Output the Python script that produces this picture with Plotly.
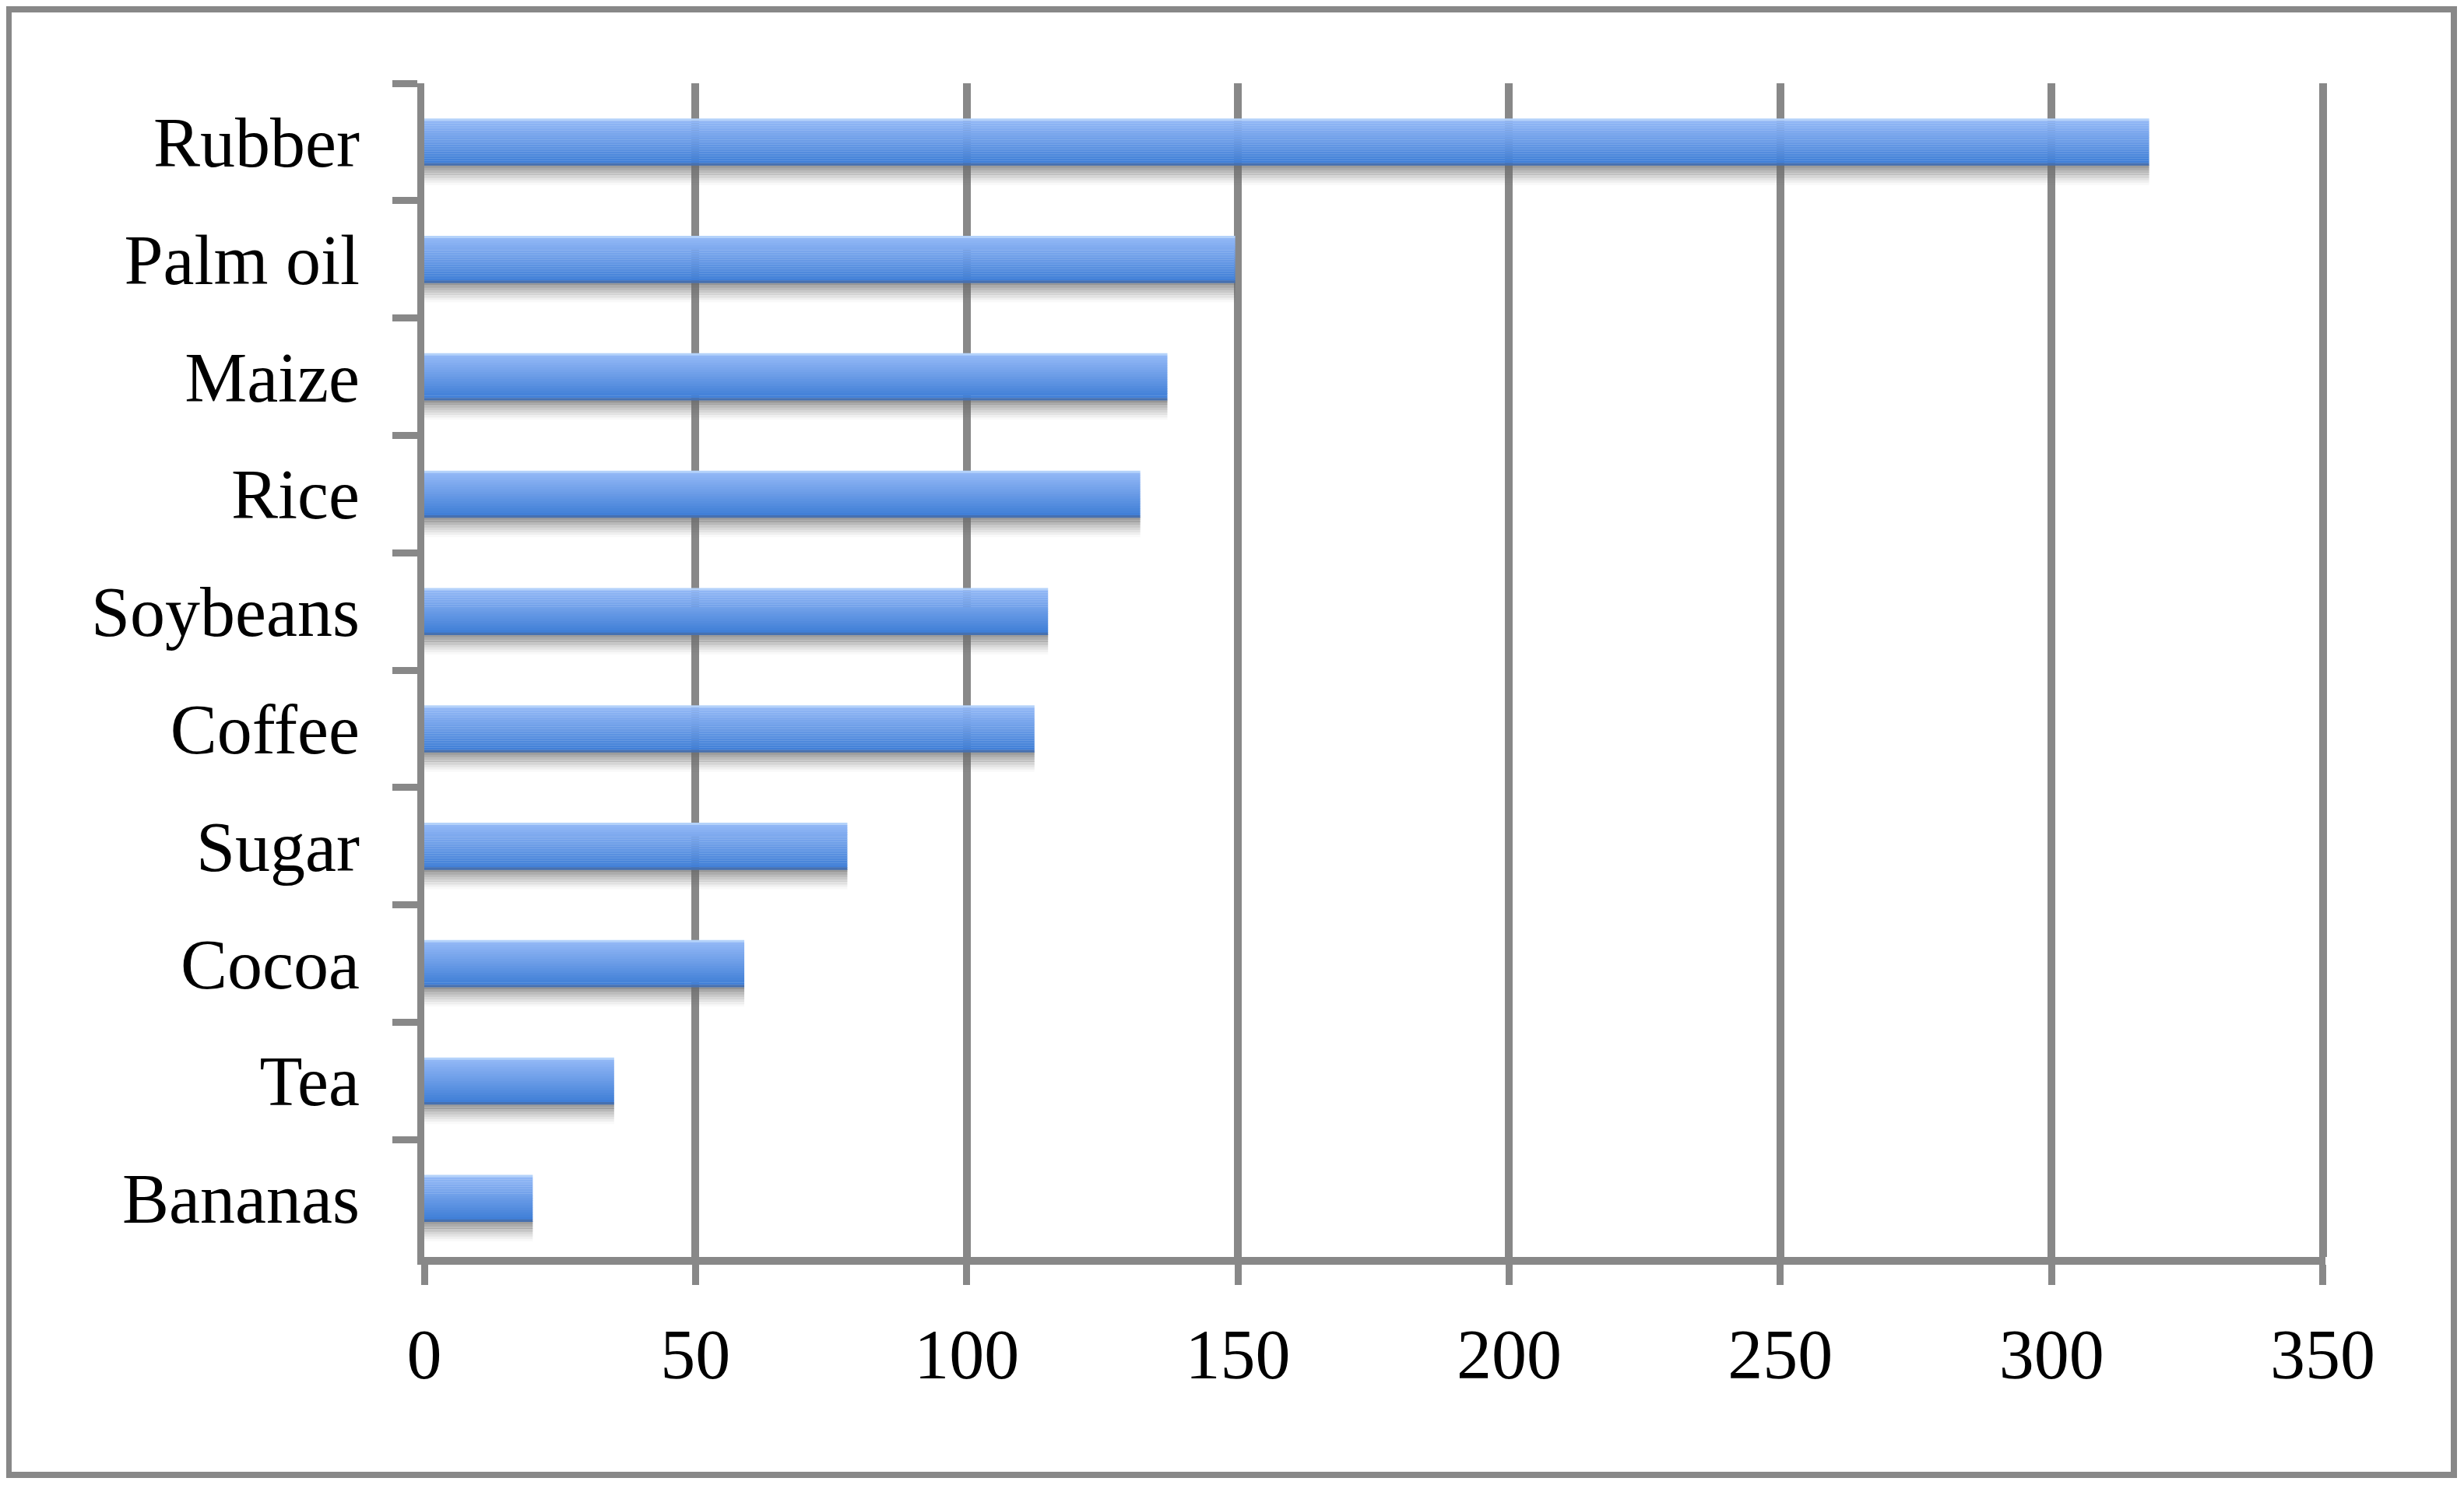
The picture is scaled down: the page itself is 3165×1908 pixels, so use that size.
import plotly.graph_objects as go

# ---- data ----
categories = ["Rubber", "Palm oil", "Maize", "Rice", "Soybeans",
              "Coffee", "Sugar", "Cocoa", "Tea", "Bananas"]
values = [318, 149.5, 137, 132, 115, 112.5, 78, 59, 35, 20]
x_ticks = [0, 50, 100, 150, 200, 250, 300, 350]

# ---- layout geometry (figure pixels; page body adds an 8px offset) ----
W, H = 3165, 1908
OFF = 8
L, T = 545 - OFF, 107 - OFF
R = W - (2984 - OFF) - 3
B = H - (1615 - OFF)
plot_w = W - L - R
plot_h = H - T - B

GRAY = "#888888"
FONT = "Liberation Serif"
FS = 90

fig = go.Figure()

bar_w = 0.40
# shadow stripes below each bar
n_sh = 8
sh_h = 0.17
for i in range(n_sh):
    a = 0.66 * (1 - i / n_sh) ** 1.3
    fig.add_trace(go.Bar(
        y=categories, x=values, orientation="h",
        width=sh_h / n_sh + 0.002, offset=bar_w / 2 - 0.005 + i * sh_h / n_sh,
        marker=dict(color=f"rgba(105,105,105,{a:.3f})", line=dict(width=0)),
        hoverinfo="skip", showlegend=False))

# gradient stripes of the bar
def lerp(c1, c2, t):
    return tuple(round(c1[k] + (c2[k] - c1[k]) * t) for k in range(3))

top_c = (0x94, 0xB9, 0xF7)
mid_c = (0x6E, 0x9E, 0xE8)
bot_c = (0x3C, 0x7C, 0xD5)
n = 20
for i in range(n):
    t = i / (n - 1)
    if t < 0.45:
        c = lerp(top_c, mid_c, t / 0.45)
    else:
        c = lerp(mid_c, bot_c, (t - 0.45) / 0.55)
    if i == 0:
        c = (0xB4, 0xD2, 0xFA)
    if i == n - 1:
        c = (0x46, 0x70, 0xB0)
    fig.add_trace(go.Bar(
        y=categories, x=values, orientation="h",
        width=bar_w / n + 0.002, offset=-bar_w / 2 + i * bar_w / n,
        marker=dict(color="rgb(%d,%d,%d)" % c, line=dict(width=0)),
        hoverinfo="skip", showlegend=False))

# outer border
def px_to_paper_x(px):
    return (px - OFF - L) / plot_w

def px_to_paper_y(py):
    return (H - B - (py - OFF)) / plot_h

fig.add_shape(type="rect", xref="paper", yref="paper",
              x0=px_to_paper_x(11), x1=px_to_paper_x(3152),
              y0=px_to_paper_y(1895), y1=px_to_paper_y(12),
              line=dict(color=GRAY, width=8), fillcolor="rgba(0,0,0,0)",
              layer="below")

fig.update_layout(
    width=W, height=H,
    margin=dict(l=L, r=R, t=T, b=B, pad=0),
    paper_bgcolor="white", plot_bgcolor="white",
    barmode="overlay",
    showlegend=False,
    font=dict(family=FONT, size=FS, color="black"),
    xaxis=dict(
        range=[0, 350.5], tickvals=x_ticks, ticktext=[str(v) for v in x_ticks],
        showgrid=True, gridcolor=GRAY, gridwidth=10,
        showline=True, linecolor=GRAY, linewidth=10,
        ticks="outside", ticklen=26, tickwidth=9, tickcolor=GRAY,
        zeroline=False, ticklabelstandoff=12,
        tickfont=dict(family=FONT, size=FS, color="black"),
    ),
    yaxis=dict(
        type="category", categoryorder="array", categoryarray=categories,
        autorange="reversed",
        showgrid=False,
        showline=True, linecolor=GRAY, linewidth=9,
        ticks="outside", tickson="boundaries", ticklen=32, tickwidth=9,
        tickcolor=GRAY, zeroline=False, ticklabelstandoff=56,
        tickfont=dict(family=FONT, size=FS, color="black"),
    ),
)

fig.write_html("out.html")
